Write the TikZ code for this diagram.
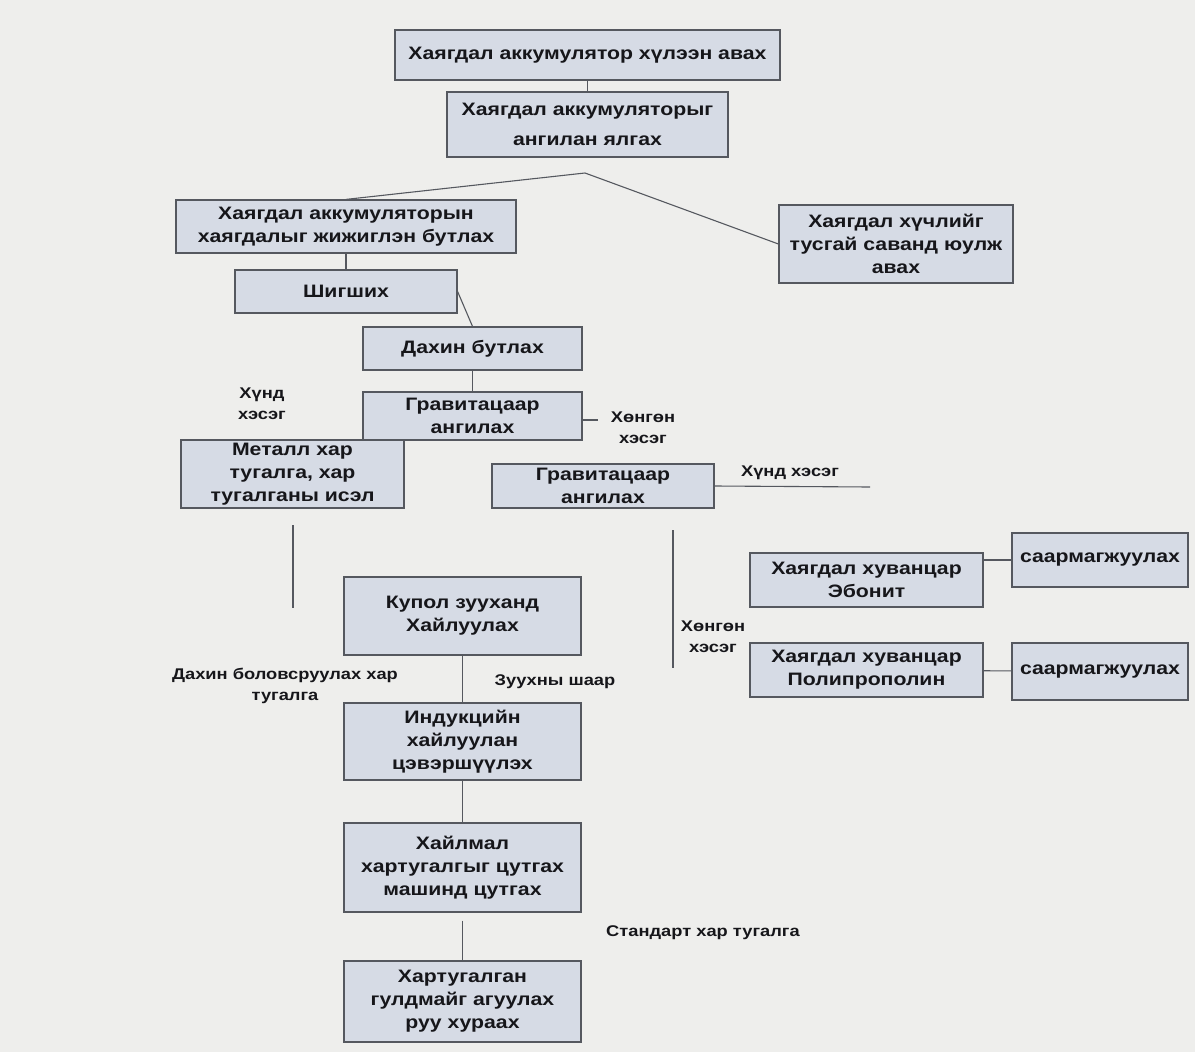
\documentclass[tikz,border=0pt]{standalone}
\usepackage{fontspec}
\setmainfont{Liberation Sans}[FakeStretch=1.18]
\usepackage{xcolor}
\usetikzlibrary{positioning}
\definecolor{boxfill}{RGB}{214,219,229}
\definecolor{boxline}{RGB}{85,88,95}
\definecolor{paper}{RGB}{238,238,236}
\definecolor{ink}{RGB}{22,22,26}

\begin{document}
\begin{tikzpicture}[
    x=1pt, y=-1pt,
    box/.style={rectangle, draw=boxline, line width=1.2pt, fill=boxfill, align=center,
        inner sep=2pt, text=ink, font=\fontsize{18}{23}\selectfont\bfseries},
    lbl/.style={align=center, inner sep=1pt, text=ink, font=\fontsize{15.5}{21}\selectfont\bfseries},
    link/.style={draw=boxline, line width=1.1pt}
]
    \useasboundingbox (0,0) rectangle (1195,1052);
    \fill[paper] (0,0) rectangle (1195,1052);

    % Nodes
    \node[box, minimum width=385pt, minimum height=50pt] (accept) at (587.5,55) {Хаягдал аккумулятор хүлээн авах};
    \node[box, minimum width=281pt, minimum height=65pt, font=\fontsize{18}{30}\selectfont\bfseries] (sort) at (587.5,124.5) {Хаягдал аккумуляторыг\\ангилан ялгах};
    \node[box, minimum width=340pt, minimum height=53pt] (crush) at (346,226.5) {Хаягдал аккумуляторын\\хаягдалыг жижиглэн бутлах};
    \node[box, minimum width=234pt, minimum height=78pt] (acid) at (896,244) {Хаягдал хүчлийг\\тусгай саванд юулж\\авах};
    \node[box, minimum width=222pt, minimum height=43pt] (sieve) at (346,291.5) {Шигших};
    \node[box, minimum width=219pt, minimum height=43pt] (recrush) at (472.5,348.5) {Дахин бутлах};
    \node[box, minimum width=219pt, minimum height=48pt] (gravA) at (472.5,416) {Гравитацаар\\ангилах};
    \node[box, minimum width=223pt, minimum height=68pt] (lead) at (292.5,474) {Металл хар\\тугалга, хар\\тугалганы исэл};
    \node[box, minimum width=222pt, minimum height=44pt] (gravB) at (603,486) {Гравитацаар\\ангилах};
    \node[box, minimum width=233pt, minimum height=54pt] (ebonit) at (866.5,580) {Хаягдал хуванцар\\Эбонит};
    \node[box, minimum width=233pt, minimum height=54pt] (polyp) at (866.5,670) {Хаягдал хуванцар\\Полипрополин};
    \node[box, minimum width=176pt, minimum height=54pt] (neutA) at (1100,560) {саармагжуулах};
    \node[box, minimum width=176pt, minimum height=57pt] (neutB) at (1100,671.5) {саармагжуулах};
    \node[box, minimum width=237pt, minimum height=78pt] (cupola) at (462.5,616) {Купол зууханд\\Хайлуулах};
    \node[box, minimum width=237pt, minimum height=77pt] (induct) at (462.5,741.5) {Индукцийн\\хайлуулан\\цэвэршүүлэх};
    \node[box, minimum width=237pt, minimum height=89pt] (cast) at (462.5,867.5) {Хайлмал\\хартугалгыг цутгах\\машинд цутгах};
    \node[box, minimum width=237pt, minimum height=81pt] (store) at (462.5,1001.5) {Хартугалган\\гулдмайг агуулах\\руу хураах};

    % Labels
    \node[lbl] (heavyA) at (262,404) {Хүнд\\хэсэг};
    \node[lbl] (lightA) at (643,428) {Хөнгөн\\хэсэг};
    \node[lbl] (heavyB) at (790,473) {Хүнд хэсэг};
    \node[lbl] (lightB) at (713,637) {Хөнгөн\\хэсэг};
    \node[lbl] (recycled) at (285,686) {Дахин боловсруулах хар\\тугалга};
    \node[lbl] (slag) at (555,682) {Зуухны шаар};
    \node[lbl] (standard) at (703,933) {Стандарт хар тугалга};

    % Free ends
    \coordinate (apex) at (585,173);
    \coordinate (stubA) at (598,420);
    \coordinate (stubB) at (870,487);
    \coordinate (lightTop) at (673,530);
    \coordinate (lightBot) at (673,668);
    \coordinate (leadTop) at (293,525);
    \coordinate (leadBot) at (293,608);

    % Lines
    \draw[link] (accept) -- (sort);
    \draw[link] (crush.north) -- (apex) -- (acid.west);
    \draw[link] (crush) -- (sieve);
    \draw[link] (sieve.east) -- (recrush.north);
    \draw[link] (recrush) -- (gravA);
    \draw[link] (gravA.east |- stubA) -- (stubA);
    \draw[link] (gravB.east) -- (stubB);
    \draw[link] (lightTop) -- (lightBot);
    \draw[link] (leadTop) -- (leadBot);
    \draw[link] (neutA.west) -- (neutA.west -| ebonit.east);
    \draw[link] (polyp) -- (neutB);
    \draw[link] (cupola) -- (induct);
    \draw[link] (induct) -- (cast);
    \draw[link] ([yshift=-8pt]cast.south) -- (store.north);
\end{tikzpicture}
\end{document}
